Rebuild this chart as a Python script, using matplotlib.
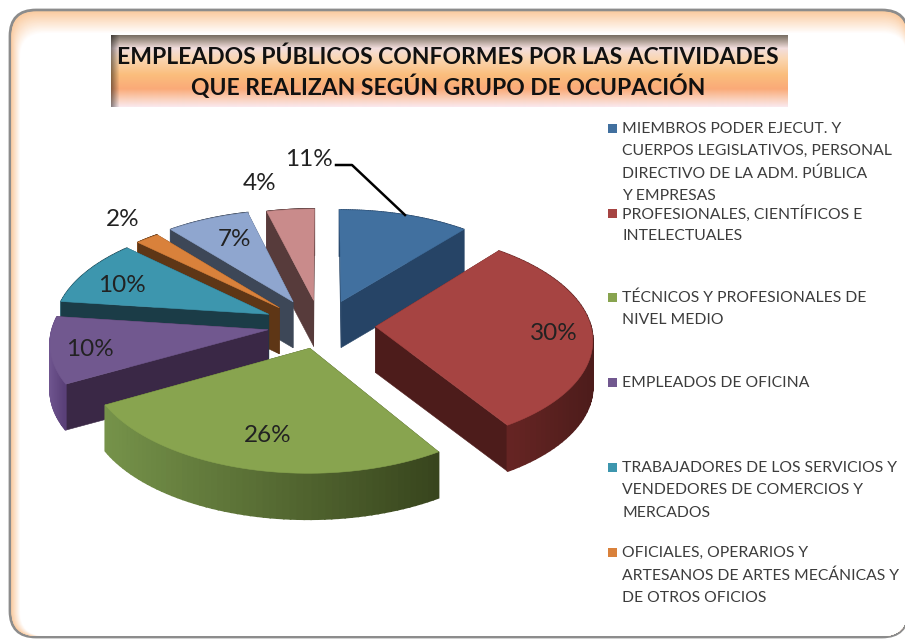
import numpy as np
import matplotlib
matplotlib.use("Agg")
import matplotlib.pyplot as plt
from matplotlib.patches import FancyBboxPatch

# shares in clockwise order, starting from 12 o'clock
values = [11, 30, 26, 10, 10, 2, 7, 4]
legend_lines = [
    ["MIEMBROS PODER EJECUT. Y", "CUERPOS LEGISLATIVOS, PERSONAL", "DIRECTIVO DE LA ADM. PÚBLICA", "Y EMPRESAS"],
    ["PROFESIONALES, CIENTÍFICOS E", "INTELECTUALES"],
    ["TÉCNICOS Y PROFESIONALES DE", "NIVEL MEDIO"],
    ["EMPLEADOS DE OFICINA"],
    ["TRABAJADORES DE LOS SERVICIOS Y", "VENDEDORES DE COMERCIOS Y", "MERCADOS"],
    ["OFICIALES, OPERARIOS Y", "ARTESANOS DE ARTES MECÁNICAS Y", "DE OTROS OFICIOS"],
]
title_lines = ["EMPLEADOS PÚBLICOS CONFORMES POR LAS ACTIVIDADES",
               "QUE REALIZAN SEGÚN GRUPO DE OCUPACIÓN"]

top_colors = ["#41709f", "#a64442", "#88a44f", "#71588f", "#3d96ae", "#d9813b", "#8fa6cf", "#c98b8b"]
face_colors = ["#264466", "#4d1c1b", "#3a471f", "#3a2846", "#1b3c47", "#5e3616", "#3d4757", "#573b3b"]
rim_left = ["#2a4c72", "#6a2624", "#76934a", "#705690", "#2a5f70", "#8a5020", "#4a5a75", "#6a4848"]
rim_right = ["#264466", "#4d1c1b", "#38451d", "#5a4078", "#1b3c47", "#5e3616", "#3d4757", "#573b3b"]
label_xy = [(309, 160), (554, 334), (268, 436), (90, 350), (122, 285), (123, 219), (234, 239), (260, 184)]
legend_y = [129, 214, 298, 383, 468, 553]
# small pixel corrections per slice
nudge = [(4, 0), (4, 0), (3, -2), (-1, 0), (-5, 0), (-6, 1), (-4, -1), (0, 0)]

# projection of the pie plane to pixels
cx, cy, rx, ry, k = 320, 325, 215, 106, 0.106
explode = 0.24
depth = 46


def project(u, v):
    w = 1 + k * v
    return cx + rx * u / w, cy - ry * v / w


def hex_rgb(c):
    return np.array(matplotlib.colors.to_rgb(c))


fig = plt.figure(figsize=(9.05, 6.39), dpi=100)
ax = fig.add_axes([0, 0, 1, 1])
ax.axis("off")

# frame with the peach inner glow
peach = np.array([250, 203, 160]) / 255
ax.add_patch(FancyBboxPatch((10, 10), 898, 627, boxstyle="round,pad=0,rounding_size=26",
                            fc=peach, ec="#8c8c8c", lw=2))
n = 30
for i in range(1, n + 1):
    t = i / n
    col = peach + (1 - peach) * t
    ax.add_patch(FancyBboxPatch((11 + 9 * t, 11 + 22 * t), 896 - 9 * t, 625 - 22 * t,
                                boxstyle="round,pad=0,rounding_size=25", fc=col, ec="none"))

# title band
stops_y = [0, 0.08, 0.18, 0.32, 0.55, 0.75, 0.9, 1]
stops_c = np.array([[122, 112, 102], [175, 160, 150], [243, 222, 222], [250, 215, 180],
                    [251, 190, 125], [250, 170, 120], [250, 210, 190], [250, 232, 236]]) / 255
yy = np.linspace(0, 1, 72)
band = np.stack([np.interp(yy, stops_y, stops_c[:, i]) for i in range(3)], axis=1)
band = np.repeat(band[:, None, :], 676, axis=1)
edge = np.clip(np.arange(676) / 8, 0, 1)[None, :, None]
shade = 0.55 + 0.45 * edge
band = band * shade
ax.imshow(band, extent=(111, 787, 107, 35), aspect="auto", zorder=2)
for line, y in zip(title_lines, [57, 87]):
    ax.text(448, y, line, ha="center", va="center", fontsize=16.5, fontweight="bold",
            family="Lato", color="#111111", zorder=3)

# pie
total = sum(values)
edges = np.concatenate([[0], np.cumsum(values)]) / total * 2 * np.pi
order = []
for i in range(len(values)):
    mid = (edges[i] + edges[i + 1]) / 2
    order.append((np.cos(mid), i))
order.sort(reverse=True)

for _, i in order:
    a0, a1 = edges[i], edges[i + 1]
    mid = (a0 + a1) / 2
    du, dv = explode * np.sin(mid), explode * np.cos(mid)
    th = np.linspace(a0, a1, 60)
    xs, ys = project(np.sin(th) + du, np.cos(th) + dv)
    ax_, ay_ = project(du, dv)
    xs, ax_ = xs + nudge[i][0], ax_ + nudge[i][0]
    ys, ay_ = ys + nudge[i][1], ay_ + nudge[i][1]

    quads = []
    # radial cut faces
    for j in [0, -1]:
        q = [(ax_, ay_), (xs[j], ys[j]), (xs[j], ys[j] + depth), (ax_, ay_ + depth)]
        quads.append((np.mean([p[1] for p in q]), q, hex_rgb(face_colors[i]), 0.4))
    # outer wall, shaded from left to right
    for j in range(len(th) - 1):
        q = [(xs[j], ys[j]), (xs[j + 1], ys[j + 1]), (xs[j + 1], ys[j + 1] + depth), (xs[j], ys[j] + depth)]
        f = (xs[j] - xs.min()) / (xs.max() - xs.min())
        col = hex_rgb(rim_left[i]) * (1 - f) + hex_rgb(rim_right[i]) * f
        quads.append((np.mean([p[1] for p in q]), q, col, 1.2))
    quads.sort(key=lambda q: q[0])
    for _y, q, col, lw in quads:
        ax.fill([p[0] for p in q], [p[1] for p in q], fc=col, ec=col, lw=lw, zorder=4)

    ax.fill(np.r_[ax_, xs], np.r_[ay_, ys], fc=top_colors[i], ec=top_colors[i], lw=0.4, zorder=4)

for v, (x, y) in zip(values, label_xy):
    ax.text(x, y, f"{v}%", ha="center", va="center", fontsize=17.5, family="Lato",
            color="#222222", zorder=5)

ax.plot([336, 352, 405], [165, 165, 215], color="black", lw=1.8, zorder=5)

# legend
for lines, y0, col in zip(legend_lines, legend_y, top_colors):
    ax.add_patch(plt.Rectangle((608, y0 - 5), 9, 9, fc=col, ec="none", zorder=5))
    for j, line in enumerate(lines):
        ax.text(622, y0 + j * 22.3, line, ha="left", va="center", fontsize=11.3, family="Lato",
                color="#3c3c3c", zorder=5)

ax.set_xlim(0, 905)
ax.set_ylim(639, 0)
fig.savefig("out.png", dpi=100)
